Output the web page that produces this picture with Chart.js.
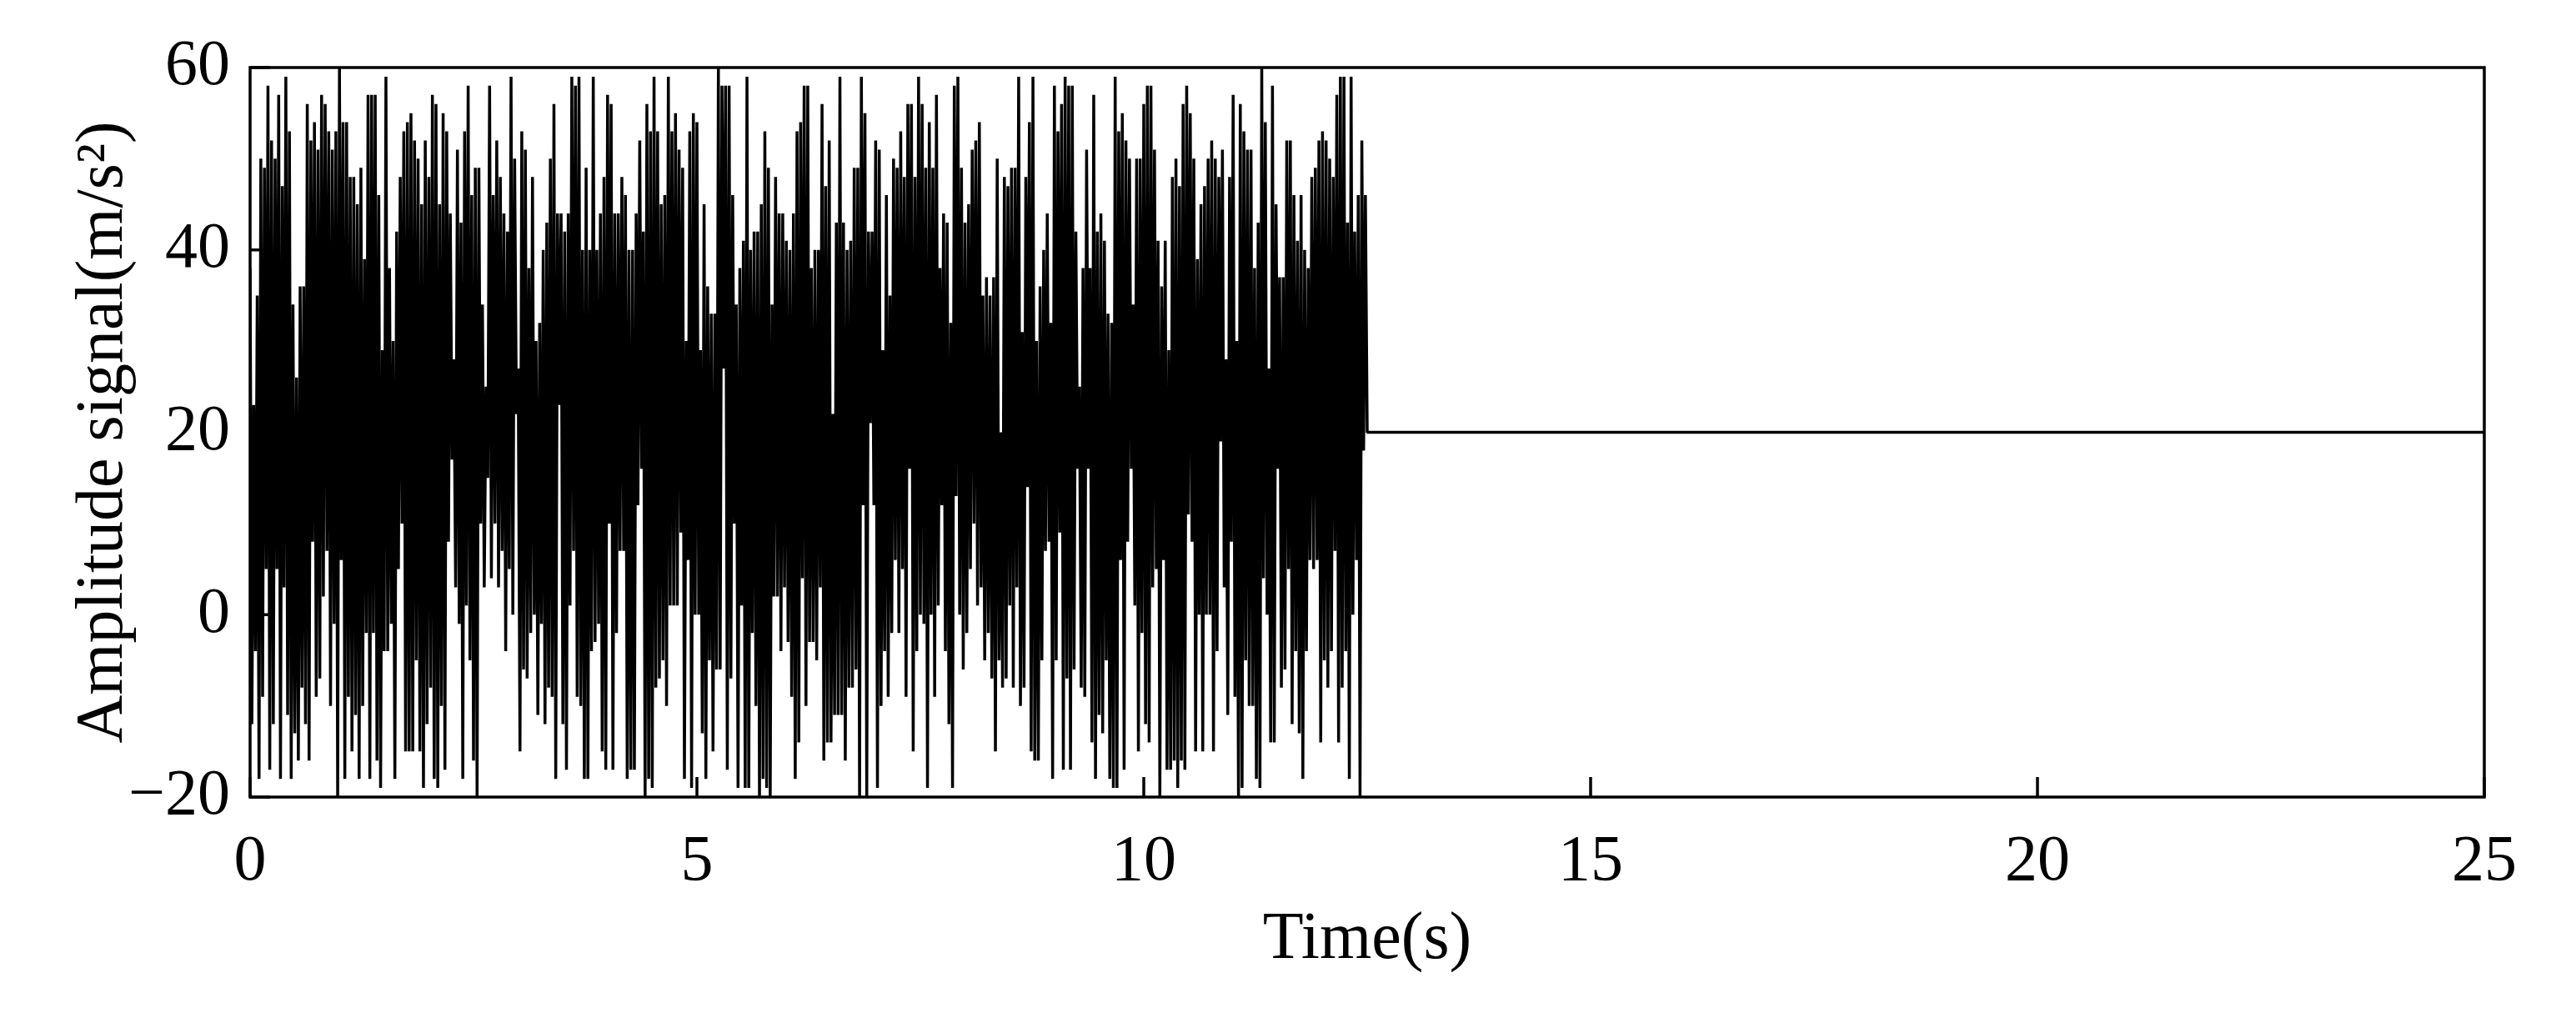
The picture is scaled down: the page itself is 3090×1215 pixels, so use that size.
<!DOCTYPE html>
<html>
<head>
<meta charset="utf-8">
<title>Amplitude signal</title>
<script src="https://cdn.jsdelivr.net/npm/chart.js@4.4.1/dist/chart.umd.min.js"></script>
<style>
  body { margin: 0; background: #fff; }
  canvas { display: block; }
</style>
</head>
<body>
<canvas id="myChart" width="3090" height="1215"></canvas>
<script>

// signal, one value every sample (0 .. 12.5 s)
let amplitude = [
  38, -12, 23, -4, 35, -18, 50, -9, 49, 5, 58, -17, 52, -12, 50, 5, 57, -18, 47, 3,
  59, -11, 53, -18, 34, -13, 26, -16, 36, -8, 36, -12, 56, -16, 52, 8, 54, -9, 51, -7,
  57, 2, 56, 7, 53, -10, 51, -1, 53, -20, 60, 6, 54, -18, 54, -9, 48, -15, 48, -11,
  45, -18, 49, -10, 39, -2, 57, -18, 57, -2, 57, -16, 46, -19, 29, -4, 59, -4, 38, -1,
  30, -18, 42, 5, 48, 10, 53, -15, 54, -15, 55, -15, 52, -5, 50, -15, 45, -19, 52, -12,
  48, -8, 57, -18, 56, -19, 45, -10, 55, -17, 53, 8, 44, 17, 28, 3, 51, -1, 43, -18,
  53, 1, 58, -5, 46, -16, 49, -20, 49, 10, 34, 3, 25, 15, 58, 4, 46, 10, 52, 3,
  48, 7, 44, -4, 42, 5, 59, 0, 50, 22, 27, -15, 53, -6, 51, -7, 38, -2, 48, 0,
  30, -11, 32, -1, 40, -12, 43, -8, 50, -9, 56, -18, 44, 23, 44, -12, 42, -17, 44, 1,
  59, 7, 58, -9, 59, -10, 40, -18, 49, -18, 40, -4, 59, -3, 40, -1, 44, -15, 48, -17,
  57, 10, 56, -17, 44, -2, 44, 7, 48, 7, 46, -18, 40, -17, 40, -17, 44, 12, 52, 16,
  42, -20, 56, -18, 53, -19, 59, -8, 53, -7, 45, -5, 46, -10, 59, 1, 53, 1, 55, 1,
  51, 9, 49, -18, 30, 6, 53, -19, 55, 0, 54, 0, 29, -13, 45, -18, 36, -5, 33, -15,
  33, -6, 60, -6, 58, 27, 58, -17, 58, -7, 46, 10, 34, -19, 38, 1, 41, -19, 59, -19,
  40, -2, 42, -10, 42, -20, 45, -18, 53, -19, 49, -20, 34, 2, 48, 2, 44, -4, 44, 3,
  41, -3, 40, -9, 44, -18, 53, -14, 54, 4, 58, -10, 58, -3, 38, -3, 40, -5, 40, 3,
  56, -16, 47, -14, 52, -14, 22, -11, 43, -11, 59, -11, 43, -16, 40, -8, 41, -8, 49, -6,
  49, -20, 59, 12, 55, -20, 42, 21, 42, 12, 52, -19, 51, -10, 29, -4, 46, -9, 35, -2,
  50, 6, 49, -2, 53, 5, 48, -9, 56, 16, 56, -15, 48, -4, 59, 0, 56, -1, 49, -19,
  54, 0, 49, -9, 57, 1, 38, 12, 44, -4, 43, -12, 32, -19, 58, 13, 59, 0, 49, -6,
  43, -2, 45, 5, 51, 10, 52, 1, 54, 3, 35, -5, 37, -2, 35, -7, 37, -15, 50, -5,
  20, -8, 48, -7, 47, 1, 49, -8, 49, 3, 59, -10, 31, -8, 48, 14, 54, -15, 59, -16,
  30, -16, 36, -5, 40, 7, 44, 8, 32, -18, 58, -5, 53, 9, 56, -17, 59, -7, 58, -17,
  58, -6, 42, 16, 25, -8, 38, -9, 51, 16, 38, -14, 57, -18, 42, -11, 44, -13, 41, -5,
  33, -18, 32, -19, 59, -19, 53, 6, 55, -17, 52, 8, 50, 16, 34, 1, 50, -15, 50, -2,
  56, -12, 58, -14, 58, 3, 51, 5, 41, -20, 36, 6, 41, -17, 29, -17, 48, -16, 50, -19,
  47, -16, 56, -17, 58, 11, 55, 8, 50, -15, 39, 0, 45, -15, 47, 0, 50, 0, 52, -15,
  50, -4, 48, 19, 51, 3, 28, -11, 48, 8, 57, -9, 30, -20, 56, -19, 53, -5, 51, -10,
  51, -10, 38, -18, 43, -19, 60, 4, 54, 0, 27, -14, 58, -14, 45, 16, 37, -8, 37, -6,
  52, 5, 52, -12, 46, -4, 41, -13, 46, -18, 40, -4, 38, 6, 48, 5, 49, 6, 52, -14,
  53, -5, 52, -8, 50, -4, 48, 7, 57, -14, 59, -8, 59, -4, 43, -18, 59, 0, 42, 6,
  46, -20, 52, 18, 46, 20
];

let signalEnd = 12.5;      // s
let holdTime = [12.5, 25]; // flat part after the record stops
let holdLevel = [20, 20];

let timeTicks = [0, 5, 10, 15, 20, 25];
let ampTicks = [-20, 0, 20, 40, 60];

let fontName = "'Liberation Serif', 'Times New Roman', serif";
let tickLen = 24;

function buildPoints() {
  let pts = [];
  let step = signalEnd / (amplitude.length - 1);
  for (let i = 0; i < amplitude.length; i++) {
    pts.push({ x: i * step, y: amplitude[i] });
  }
  for (let i = 0; i < holdTime.length; i++) {
    pts.push({ x: holdTime[i], y: holdLevel[i] });
  }
  return pts;
}

// box round the plot + MATLAB style inward ticks
const framePlugin = {
  id: 'frame',
  afterDatasetsDraw(chart) {
    let ctx = chart.ctx;
    let area = chart.chartArea;
    let xScale = chart.scales.x;
    let yScale = chart.scales.y;
    ctx.save();
    ctx.strokeStyle = '#000';
    ctx.lineWidth = 3.5;
    ctx.strokeRect(area.left, area.top, area.right - area.left, area.bottom - area.top);
    ctx.beginPath();
    for (let i = 0; i < timeTicks.length; i++) {
      let px = xScale.getPixelForValue(timeTicks[i]);
      ctx.moveTo(px, area.bottom);
      ctx.lineTo(px, area.bottom - tickLen);
    }
    for (let i = 0; i < ampTicks.length; i++) {
      let py = yScale.getPixelForValue(ampTicks[i]);
      ctx.moveTo(area.left, py);
      ctx.lineTo(area.left + tickLen, py);
    }
    ctx.stroke();
    ctx.restore();
  }
};

function showChart() {
  const data = {
    datasets: [{
      label: 'signal',
      data: buildPoints(),
      borderColor: '#000',
      borderWidth: 3.5,
      borderJoinStyle: 'bevel',
      pointRadius: 0,
      tension: 0,
      fill: false
    }]
  };
  const config = {
    type: 'line',
    data: data,
    options: {
      responsive: false,
      animation: false,
      devicePixelRatio: 1,
      parsing: false,
      layout: {
        padding: { top: 81, right: 110, bottom: 0, left: 0 }
      },
      plugins: {
        legend: { display: false },
        tooltip: { enabled: false }
      },
      scales: {
        x: {
          type: 'linear',
          min: 0,
          max: 25,
          afterBuildTicks: function (scale) {
            scale.ticks = timeTicks.map(v => ({ value: v }));
          },
          afterFit: function (scale) {
            scale.height = 259;
          },
          grid: { display: false, drawTicks: false },
          border: { display: false },
          ticks: {
            color: '#000',
            padding: 32,
            maxRotation: 0,
            font: { family: fontName, size: 78 }
          },
          title: {
            display: true,
            text: 'Time(s)',
            color: '#000',
            padding: { top: 0, bottom: 39 },
            font: { family: fontName, size: 80 }
          }
        },
        y: {
          min: -20,
          max: 60,
          afterBuildTicks: function (scale) {
            scale.ticks = ampTicks.map(v => ({ value: v }));
          },
          afterFit: function (scale) {
            scale.width = 300;
          },
          grid: { display: false, drawTicks: false },
          border: { display: false },
          ticks: {
            color: '#000',
            padding: 24,
            font: { family: fontName, size: 78 },
            callback: function (v) {
              return v < 0 ? '\u2212' + Math.abs(v) : String(v);
            }
          },
          title: {
            display: true,
            text: 'Amplitude signal(m/s\u00B2)',
            color: '#000',
            padding: { top: 77, bottom: 0 },
            font: { family: fontName, size: 80 }
          }
        }
      }
    },
    plugins: [framePlugin]
  };
  var myChart = new Chart(document.getElementById('myChart'), config);
}
showChart();

</script>
</body>
</html>
